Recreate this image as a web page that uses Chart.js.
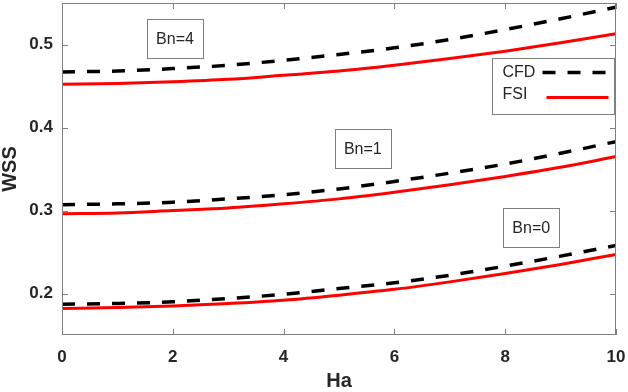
<!DOCTYPE html>
<html>
<head>
<meta charset="utf-8">
<script src="https://cdn.jsdelivr.net/npm/chart.js@4.4.1/dist/chart.umd.min.js"></script>
<style>
  html, body { margin: 0; padding: 0; background: #fff; }
  #wrap { width: 628px; height: 392px; }
</style>
</head>
<body>
<div id="wrap"><canvas id="chart" width="628" height="392"></canvas></div>
<script>
// Ha values (x axis)
const ha = [0, 1, 2, 3, 4, 5, 6, 7, 8, 9, 10]

// WSS
const cfdBn4 = [0.467, 0.468, 0.471, 0.475, 0.481, 0.488, 0.496, 0.506, 0.518, 0.531, 0.545]
const fsiBn4 = [0.452, 0.453, 0.455, 0.458, 0.463, 0.468, 0.475, 0.483, 0.492, 0.502, 0.513]
const cfdBn1 = [0.307, 0.308, 0.310, 0.314, 0.319, 0.326, 0.335, 0.345, 0.356, 0.369, 0.383]
const fsiBn1 = [0.296, 0.297, 0.300, 0.303, 0.308, 0.314, 0.322, 0.331, 0.341, 0.352, 0.365]
const cfdBn0 = [0.187, 0.188, 0.190, 0.194, 0.199, 0.206, 0.213, 0.222, 0.233, 0.245, 0.258]
const fsiBn0 = [0.182, 0.183, 0.185, 0.188, 0.192, 0.198, 0.205, 0.214, 0.224, 0.235, 0.247]

const xTicks = [0, 2, 4, 6, 8, 10]
const yTicks = [0.2, 0.3, 0.4, 0.5]

// text boxes, placed in data units
const bnLabels = ['Bn=4', 'Bn=1', 'Bn=0']
const bnAt = [[2.04, 0.507], [5.43, 0.375], [8.47, 0.279]]

const FONT = "'Liberation Sans', Arial, Helvetica, sans-serif"
const pts = ys => ha.map((x, i) => ({ x, y: ys[i] }))

const cfdStyle = { borderColor: '#000000', borderWidth: 3.5, borderDash: [13, 12], borderCapStyle: 'butt' }
const fsiStyle = { borderColor: '#ff0000', borderWidth: 3 }

const frame = {
  id: 'frame',
  afterDraw (chart) {
    const { ctx, chartArea: a, scales } = chart
    const sx = scales.x
    const sy = scales.y
    ctx.save()
    ctx.strokeStyle = '#808080'
    ctx.lineWidth = 1
    ctx.strokeRect(a.left + 0.5, a.top + 0.5, a.right - a.left - 1, a.bottom - a.top - 1)
    ctx.beginPath()
    xTicks.forEach(v => {
      const px = Math.round(sx.getPixelForValue(v)) + 0.5
      ctx.moveTo(px, a.bottom); ctx.lineTo(px, a.bottom - 6)
      ctx.moveTo(px, a.top); ctx.lineTo(px, a.top + 6)
    })
    yTicks.forEach(v => {
      const py = Math.round(sy.getPixelForValue(v)) + 0.5
      ctx.moveTo(a.left, py); ctx.lineTo(a.left + 6, py)
      ctx.moveTo(a.right, py); ctx.lineTo(a.right - 6, py)
    })
    ctx.stroke()

    // Bn text boxes
    ctx.font = '16px ' + FONT
    ctx.textAlign = 'center'
    ctx.textBaseline = 'middle'
    bnLabels.forEach((t, i) => {
      const cx = sx.getPixelForValue(bnAt[i][0])
      const cy = sy.getPixelForValue(bnAt[i][1])
      const w = 56
      const h = 39
      const l = Math.round(cx - w / 2) + 0.5
      const tp = Math.round(cy - h / 2) + 0.5
      ctx.fillStyle = '#ffffff'
      ctx.fillRect(l, tp, w, h)
      ctx.strokeStyle = '#808080'
      ctx.strokeRect(l, tp, w, h)
      ctx.fillStyle = '#262626'
      ctx.fillText(t, cx, cy + 1)
    })

    // legend box, top right under the curves
    const lw = 122
    const lh = 56
    const ll = a.right - lw - 1.5
    const lt = a.top + 55.5
    ctx.fillStyle = '#ffffff'
    ctx.fillRect(ll, lt, lw, lh)
    ctx.strokeStyle = '#808080'
    ctx.lineWidth = 1
    ctx.strokeRect(ll, lt, lw, lh)
    ctx.font = '16px ' + FONT
    ctx.textAlign = 'left'
    ctx.fillStyle = '#262626'
    ctx.fillText('CFD', ll + 10, lt + 14)
    ctx.fillText('FSI', ll + 10, lt + 36)

    ctx.beginPath()
    ctx.strokeStyle = cfdStyle.borderColor
    ctx.lineWidth = cfdStyle.borderWidth
    ctx.setLineDash(cfdStyle.borderDash)
    ctx.moveTo(ll + 50, lt + 14); ctx.lineTo(ll + 116, lt + 14)
    ctx.stroke()
    ctx.beginPath()
    ctx.setLineDash([])
    ctx.strokeStyle = fsiStyle.borderColor
    ctx.lineWidth = fsiStyle.borderWidth
    ctx.moveTo(ll + 54, lt + 39); ctx.lineTo(ll + 116, lt + 39)
    ctx.stroke()
    ctx.restore()
  }
}

const series = [
  { data: pts(cfdBn4), ...cfdStyle },
  { data: pts(fsiBn4), ...fsiStyle },
  { data: pts(cfdBn1), ...cfdStyle },
  { data: pts(fsiBn1), ...fsiStyle },
  { data: pts(cfdBn0), ...cfdStyle },
  { data: pts(fsiBn0), ...fsiStyle }
]

new Chart(document.getElementById('chart').getContext('2d'), {
  type: 'line',
  data: {
    datasets: series.map(s => ({ ...s, pointRadius: 0, fill: false, cubicInterpolationMode: 'monotone' }))
  },
  options: {
    responsive: false,
    animation: false,
    layout: { padding: { top: 3, right: 12, left: 0, bottom: 0 } },
    plugins: { legend: { display: false }, tooltip: { enabled: false } },
    scales: {
      x: {
        type: 'linear',
        min: 0,
        max: 10,
        afterBuildTicks: s => { s.ticks = xTicks.map(v => ({ value: v })) },
        afterFit: s => {
          s.height = 57
          s.paddingLeft = 0
          s.paddingRight = 0
        },
        grid: { display: false, drawTicks: false },
        border: { display: false },
        ticks: { padding: 12, color: '#262626', font: { family: FONT, size: 17, weight: 'bold' }, maxRotation: 0 },
        title: { display: true, text: 'Ha', color: '#262626', padding: { top: 0, bottom: 1 }, font: { family: FONT, size: 20, weight: 'bold', lineHeight: 1 } }
      },
      y: {
        min: 0.15,
        max: 0.55,
        afterBuildTicks: s => { s.ticks = yTicks.map(v => ({ value: v })) },
        afterFit: s => {
          s.width = 62
          s.paddingTop = 0
          s.paddingBottom = 0
        },
        grid: { display: false, drawTicks: false },
        border: { display: false },
        ticks: { padding: 9, color: '#262626', font: { family: FONT, size: 17, weight: 'bold' }, callback: v => v.toFixed(1) },
        title: { display: true, text: 'WSS', color: '#262626', padding: { top: 0, bottom: 1 }, font: { family: FONT, size: 20, weight: 'bold', lineHeight: 1 } }
      }
    }
  },
  plugins: [frame]
})
</script>
</body>
</html>
